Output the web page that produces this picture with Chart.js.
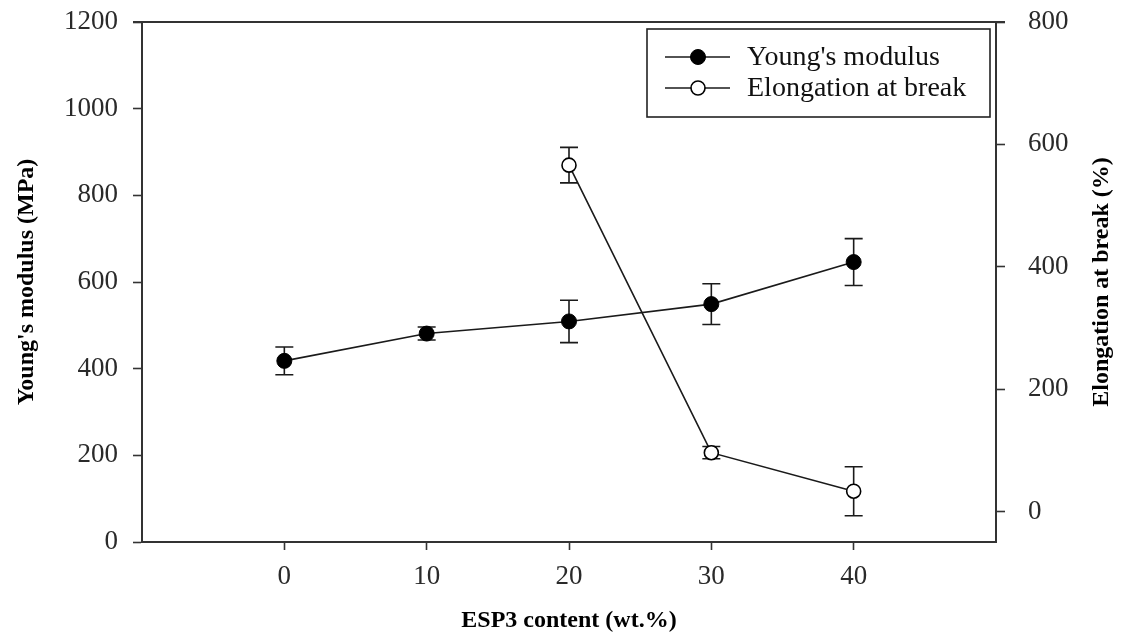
<!DOCTYPE html>
<html>
<head>
<meta charset="utf-8">
<script src="https://cdn.jsdelivr.net/npm/chart.js@4.4.1/dist/chart.umd.min.js"></script>
<style>
  html, body { margin: 0; padding: 0; background: #fff; }
  #wrap { width: 1125px; height: 637px; }
</style>
</head>
<body>
<div id="wrap"><canvas id="chart" width="1125" height="637"></canvas></div>
<script>
// DATA
const esp3 = [0, 10, 20, 30, 40];
const modulus = [418, 481, 509, 549, 646];
const modulusErr = [32, 15, 49, 47, 54];

const elongX = [20, 30, 40];
const elongation = [566, 96, 33];
const elongationErr = [29, 10, 40];

const xTicks = [0, 10, 20, 30, 40];
const leftTicks = [0, 200, 400, 600, 800, 1000, 1200];
const rightTicks = [0, 200, 400, 600, 800];

const INK = "#1a1a1a";
const AXIS = "#333";
const SERIF = "'Liberation Serif', 'Times New Roman', serif";

function pts(xs, ys){ return xs.map((x,i)=>({x, y:ys[i]})); }
function fixTicks(list){ return scale => { scale.ticks = list.map(v=>({value:v})); }; }
// fixed box size, no extra room for the end labels
function fitBox(w, h){
  return s => {
    if (w) s.width = w;
    if (h) s.height = h;
    s.paddingTop = s.paddingBottom = s.paddingLeft = s.paddingRight = 0;
  };
}

// error bars, drawn before the markers so open circles cover them
const errorBars = {
  id: "errorBars",
  beforeDatasetsDraw(chart){
    const ctx = chart.ctx;
    const sets = [
      {xs: esp3, ys: modulus, err: modulusErr, axis: "y"},
      {xs: elongX, ys: elongation, err: elongationErr, axis: "y2"}
    ];
    ctx.save();
    ctx.strokeStyle = INK;
    ctx.lineWidth = 1.6;
    sets.forEach(s=>{
      const sx = chart.scales.x, sy = chart.scales[s.axis];
      s.xs.forEach((x,i)=>{
        const px = sx.getPixelForValue(x);
        const top = sy.getPixelForValue(s.ys[i] + s.err[i]);
        const bot = sy.getPixelForValue(s.ys[i] - s.err[i]);
        ctx.beginPath();
        ctx.moveTo(px, top); ctx.lineTo(px, bot);
        ctx.moveTo(px-9, top); ctx.lineTo(px+9, top);
        ctx.moveTo(px-9, bot); ctx.lineTo(px+9, bot);
        ctx.stroke();
      });
    });
    ctx.restore();
  }
};

// frame top line, axis titles and boxed legend
const decor = {
  id: "decor",
  afterDraw(chart){
    const ctx = chart.ctx, a = chart.chartArea;
    ctx.save();
    ctx.strokeStyle = AXIS;
    ctx.lineWidth = 2;
    ctx.beginPath();
    ctx.moveTo(a.left - 9, a.top); ctx.lineTo(a.right + 9, a.top);
    ctx.stroke();

    ctx.fillStyle = "#000";
    ctx.font = "bold 24px " + SERIF;
    ctx.textAlign = "center";
    ctx.textBaseline = "middle";
    ctx.fillText("ESP3 content (wt.%)", (a.left + a.right)/2, 621);

    const midY = (a.top + a.bottom)/2;
    [["Young's modulus (MPa)", 27], ["Elongation at break (%)", 1102]].forEach(([t, x])=>{
      ctx.save();
      ctx.translate(x, midY);
      ctx.rotate(-Math.PI/2);
      ctx.fillText(t, 0, 0);
      ctx.restore();
    });

    // legend
    const box = {x: 647, y: 29, w: 343, h: 88};
    ctx.fillStyle = "#fff";
    ctx.fillRect(box.x, box.y, box.w, box.h);
    ctx.strokeStyle = "#222";
    ctx.lineWidth = 1.6;
    ctx.strokeRect(box.x, box.y, box.w, box.h);
    chart.data.datasets.forEach((ds, i)=>{
      const y = 57 + i*31;
      ctx.strokeStyle = ds.borderColor;
      ctx.lineWidth = ds.borderWidth;
      ctx.beginPath(); ctx.moveTo(665, y); ctx.lineTo(730, y); ctx.stroke();
      ctx.beginPath();
      ctx.arc(698, y, ds.pointRadius, 0, Math.PI*2);
      ctx.fillStyle = ds.pointBackgroundColor;
      ctx.fill();
      ctx.lineWidth = ds.pointBorderWidth;
      ctx.strokeStyle = ds.pointBorderColor;
      ctx.stroke();
      ctx.fillStyle = "#111";
      ctx.font = "28px " + SERIF;
      ctx.textAlign = "left";
      ctx.fillText(ds.label, 747, y + 1);
    });
    ctx.restore();
  }
};

const tickFont = {family: SERIF, size: 27};
const plain = v => String(v);

new Chart(document.getElementById("chart"), {
  type: "line",
  data: {
    datasets: [
      {
        label: "Young's modulus",
        data: pts(esp3, modulus),
        yAxisID: "y",
        borderColor: INK, borderWidth: 1.6,
        pointRadius: 7.5, pointBackgroundColor: "#000",
        pointBorderColor: "#000", pointBorderWidth: 1,
        tension: 0
      },
      {
        label: "Elongation at break",
        data: pts(elongX, elongation),
        yAxisID: "y2",
        borderColor: INK, borderWidth: 1.6,
        pointRadius: 7, pointBackgroundColor: "#fff",
        pointBorderColor: "#000", pointBorderWidth: 1.6,
        tension: 0
      }
    ]
  },
  options: {
    responsive: false,
    animation: false,
    devicePixelRatio: 1,
    layout: {padding: {top: 22, left: 0, right: 0, bottom: 0}},
    plugins: {legend: {display: false}, tooltip: {enabled: false}},
    scales: {
      x: {
        type: "linear", min: -10, max: 50,
        afterBuildTicks: fixTicks(xTicks),
        afterFit: fitBox(0, 95),
        grid: {drawOnChartArea: false, tickLength: 8, tickColor: AXIS, tickWidth: 1.6},
        border: {color: AXIS, width: 2},
        ticks: {font: tickFont, color: "#2a2a2a", padding: 11, maxRotation: 0, callback: plain}
      },
      y: {
        position: "left", min: 0, max: 1200,
        afterBuildTicks: fixTicks(leftTicks),
        afterFit: fitBox(142, 0),
        grid: {drawOnChartArea: false, tickLength: 9, tickColor: AXIS, tickWidth: 1.6},
        border: {color: AXIS, width: 2},
        ticks: {font: tickFont, color: "#2a2a2a", padding: 15, callback: plain}
      },
      y2: {
        position: "right", min: -50, max: 800,
        afterBuildTicks: fixTicks(rightTicks),
        afterFit: fitBox(129, 0),
        grid: {drawOnChartArea: false, tickLength: 9, tickColor: AXIS, tickWidth: 1.6},
        border: {color: AXIS, width: 2},
        ticks: {font: tickFont, color: "#2a2a2a", padding: 23, callback: plain}
      }
    }
  },
  plugins: [errorBars, decor]
});
</script>
</body>
</html>
